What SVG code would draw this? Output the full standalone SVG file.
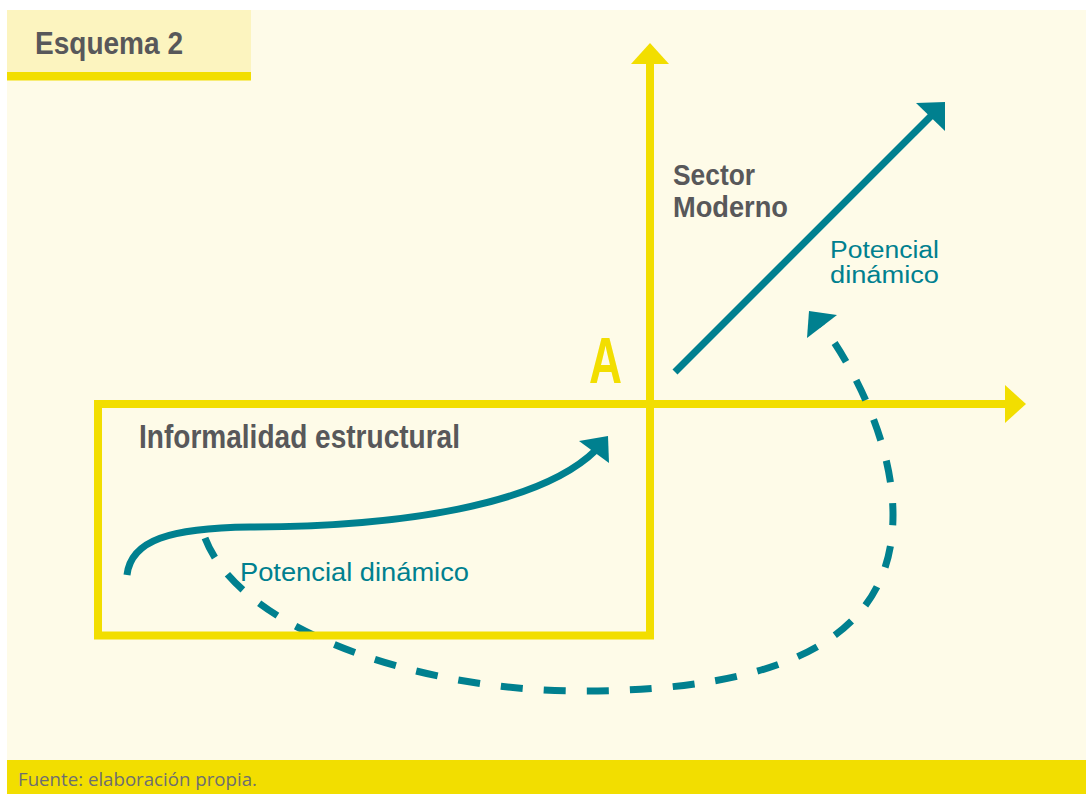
<svg xmlns="http://www.w3.org/2000/svg" width="1086" height="794" viewBox="0 0 1086 794">
<style>
.title{font-family:"Liberation Sans",Arial,sans-serif;font-weight:bold;fill:#58585a}
.teal-txt{font-family:"Liberation Sans",Arial,sans-serif;font-weight:normal;fill:#00808f}
.axis{stroke:#f2de00;stroke-width:8;fill:none}
.ahead{fill:#f2de00}
.tline{stroke:#00808f;stroke-width:7;fill:none}
.thead{fill:#00808f}
.dash{stroke-dasharray:22 21}
</style>
<rect x="0" y="0" width="1086" height="794" fill="#ffffff"/>
<rect x="7" y="10" width="1079" height="750" fill="#fefbe8"/>
<g id="header">
<rect x="7" y="10" width="244" height="62" fill="#fcf4bf"/>
<rect x="7" y="72" width="244" height="8.5" fill="#f2de00"/>
<text class="title" x="35" y="53.5" font-size="32" textLength="148" lengthAdjust="spacingAndGlyphs">Esquema 2</text>
</g>
<g id="footer">
<rect x="7" y="760" width="1079" height="34" fill="#f2de00"/>
<text x="18" y="786" font-family="'Open Sans','Noto Sans',sans-serif" font-size="18" fill="#6e6e70" textLength="239" lengthAdjust="spacingAndGlyphs">Fuente: elaboración propia.</text>
</g>
<g id="connectors">
<g id="axes">
<line class="axis" x1="650" y1="64" x2="650" y2="639"/>
<polygon class="ahead" points="631,64 650,43 669,64"/>
<line class="axis" x1="94" y1="404" x2="1006" y2="404"/>
<polygon class="ahead" points="1005,385 1026,404 1005,423"/>
</g>
<g id="modern-arrow">
<line class="tline" x1="675" y1="372" x2="932" y2="115" stroke-width="8"/>
<polygon class="thead" points="945,102 916,103 945,131"/>
</g>
<g id="informal-arrow">
<path class="tline" d="M127,575 C131,540 170,528 250,527 C400,527 540,505 596,450"/>
<polygon class="thead" points="608,436 579,441 609,463"/>
</g>
<g id="dashed-arrow">
<path class="tline dash" d="M205,538 C240,630 420,691 580,691 C780,691 893,640 893,515 C893,440 850,360 818,320"/>
<polygon class="thead" points="809,311 837,315 807,338"/>
</g>
</g>
<g id="informal-box">
<rect class="axis" x="98" y="404" width="552" height="231.5"/>
<text class="title" x="139" y="447.5" font-size="33" textLength="321" lengthAdjust="spacingAndGlyphs">Informalidad estructural</text>
<text class="teal-txt" x="240" y="580.5" font-size="25" textLength="229" lengthAdjust="spacingAndGlyphs">Potencial dinámico</text>
</g>
<g id="sector-moderno">
<text class="title" x="673" y="185" font-size="30" textLength="82" lengthAdjust="spacingAndGlyphs">Sector</text>
<text class="title" x="673" y="216.7" font-size="30" textLength="115" lengthAdjust="spacingAndGlyphs">Moderno</text>
<text class="teal-txt" x="830" y="257.5" font-size="23" textLength="109" lengthAdjust="spacingAndGlyphs">Potencial</text>
<text class="teal-txt" x="830" y="282.5" font-size="23" textLength="109" lengthAdjust="spacingAndGlyphs">dinámico</text>
</g>
<g id="point-a">
<text x="589" y="383.3" font-family="'Liberation Sans',Arial,sans-serif" font-weight="bold" font-size="65" fill="#f2de00" textLength="33" lengthAdjust="spacingAndGlyphs">A</text>
</g>
</svg>
